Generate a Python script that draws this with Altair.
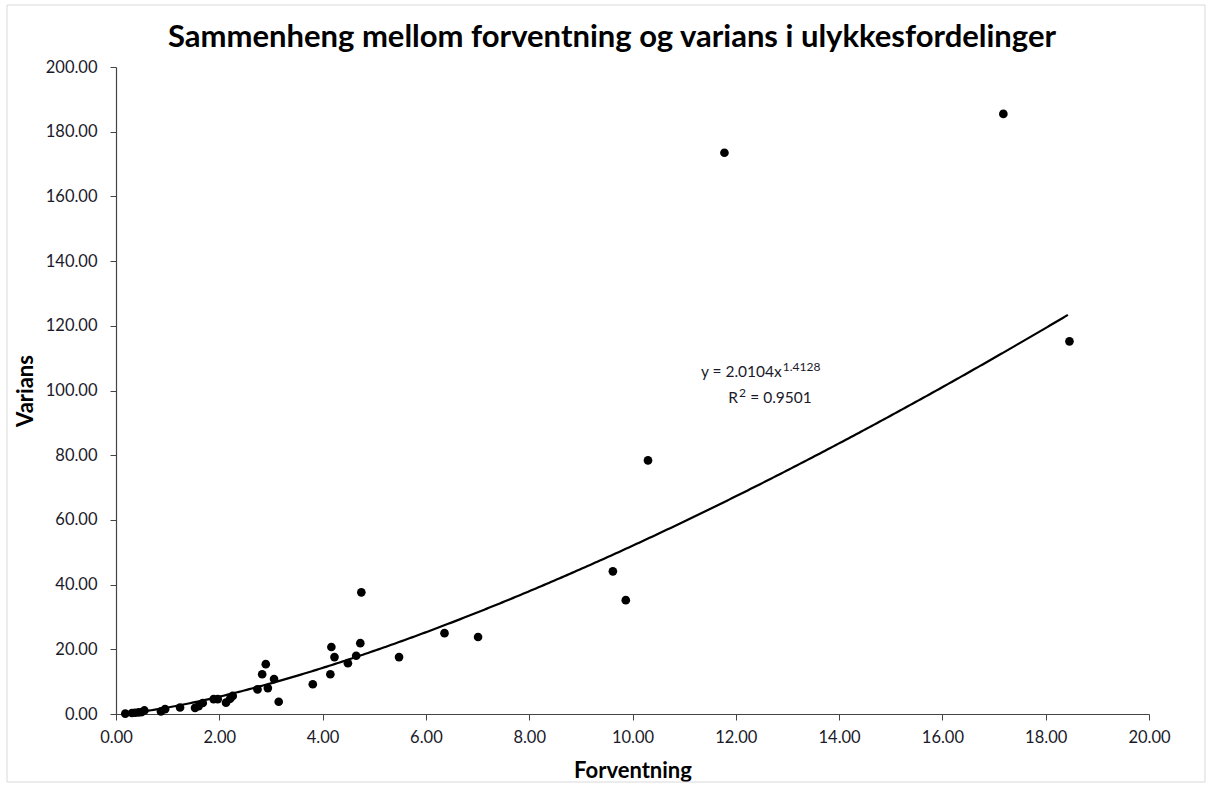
import altair as alt
import pandas as pd

# Data
forventning = [0.18, 0.31, 0.37, 0.44, 0.50, 0.55, 0.87, 0.95, 1.24, 1.53,
               1.60, 1.68, 1.89, 1.97, 2.13, 2.21, 2.26, 2.74, 2.83, 2.90,
               2.94, 3.06, 3.15, 3.81, 4.15, 4.17, 4.23, 4.49, 4.65, 4.73,
               4.75, 5.48, 6.36, 7.01, 9.62, 9.87, 10.30, 11.78, 17.18, 18.46]
varians = [0.10, 0.30, 0.40, 0.50, 0.60, 1.10, 0.80, 1.50, 2.00, 1.90,
           2.40, 3.40, 4.60, 4.60, 3.50, 4.70, 5.60, 7.60, 12.30, 15.40,
           8.00, 10.80, 3.80, 9.20, 12.30, 20.70, 17.60, 15.70, 18.00, 21.90,
           37.60, 17.60, 25.00, 23.80, 44.10, 35.20, 78.40, 173.50, 185.50, 115.20]

# Power trendline shown on the chart: y = a * x^b
coef_a = 2.0104
coef_b = 1.4128
x_ticks = [0, 2, 4, 6, 8, 10, 12, 14, 16, 18, 20]
y_ticks = [0, 20, 40, 60, 80, 100, 120, 140, 160, 180, 200]
title_text = "Sammenheng mellom forventning og varians i ulykkesfordelinger"

FONT = "Lato"
TXT = "#1a1a2a"

df = pd.DataFrame({"x": forventning, "y": varians})

xscale = alt.Scale(domain=[0, 20], nice=False, zero=True)
yscale = alt.Scale(domain=[0, 200], nice=False, zero=True)

xaxis = alt.Axis(title="Forventning", values=x_ticks, format=".2f", grid=False,
                 tickSize=6, labelPadding=9, labelFlush=False, titleX=516.5, titleY=63,
                 titleBaseline="alphabetic", titleAlign="center")
yaxis = alt.Axis(title="Varians", values=y_ticks, format=".2f", grid=False,
                 tickSize=6, labelPadding=13, labelFlush=False, titleX=-91, titleY=323.5,
                 titleBaseline="middle", titleAlign="center", titleAngle=270)

points = alt.Chart(df).mark_circle(size=75, color="black", opacity=1).encode(
    x=alt.X("x:Q", scale=xscale, axis=xaxis),
    y=alt.Y("y:Q", scale=yscale, axis=yaxis),
)

trend = alt.Chart(alt.sequence(min(forventning), max(forventning) + 0.001, 0.05, as_="x")).transform_calculate(
    y=f"{coef_a} * pow(datum.x, {coef_b})"
).mark_line(color="black", strokeWidth=2.2).encode(
    x=alt.X("x:Q", scale=xscale),
    y=alt.Y("y:Q", scale=yscale),
)

eq_main = pd.DataFrame({"x": [12.89, 12.04, 12.28], "y": [104.1, 96.2, 96.2],
                        "t": ["y = 2.0104x", "R", "= 0.9501"]})
ann_right = alt.Chart(eq_main.iloc[:2]).mark_text(
    align="right", baseline="alphabetic", font=FONT, fontSize=15.5, color=TXT
).encode(x=alt.X("x:Q", scale=xscale), y=alt.Y("y:Q", scale=yscale), text="t:N")
ann_left = alt.Chart(eq_main.iloc[2:]).mark_text(
    align="left", baseline="alphabetic", font=FONT, fontSize=15.5, color=TXT
).encode(x=alt.X("x:Q", scale=xscale), y=alt.Y("y:Q", scale=yscale), text="t:N")

sup = pd.DataFrame({"x": [12.91, 12.06], "y": [104.1, 96.2], "t": ["1.4128", "2"]})
ann_sup = alt.Chart(sup).mark_text(
    align="left", baseline="alphabetic", font=FONT, fontSize=12, color=TXT, dy=-6
).encode(x=alt.X("x:Q", scale=xscale), y=alt.Y("y:Q", scale=yscale), text="t:N")

border = alt.Chart(pd.DataFrame({"k": [0]})).mark_rect(
    fill=None, stroke="#d9d9d9", strokeWidth=1
).encode(x=alt.value(-109), x2=alt.value(1089), y=alt.value(-62), y2=alt.value(715))

title = alt.Chart(pd.DataFrame({"t": [title_text]})).mark_text(
    align="center", baseline="alphabetic", font=FONT, fontSize=31, fontWeight="bold", color="black"
).encode(x=alt.value(496), y=alt.value(-20), text="t:N")

chart = alt.layer(border, title, trend, points, ann_right, ann_left, ann_sup).properties(
    width=1033, height=647,
    autosize=alt.AutoSizeParams(type="none"),
    padding={"left": 116, "top": 67, "right": 63, "bottom": 73},
    background="white",
).configure_view(stroke=None).configure_axis(
    domainColor="#444444", tickColor="#444444", domainWidth=1.2,
    labelFont=FONT, labelFontSize=16.5, labelColor=TXT,
    titleFont=FONT, titleFontSize=22, titleFontWeight="bold", titleColor="black",
)

chart.save("out.html", embed_options={"renderer": "svg", "actions": False})
